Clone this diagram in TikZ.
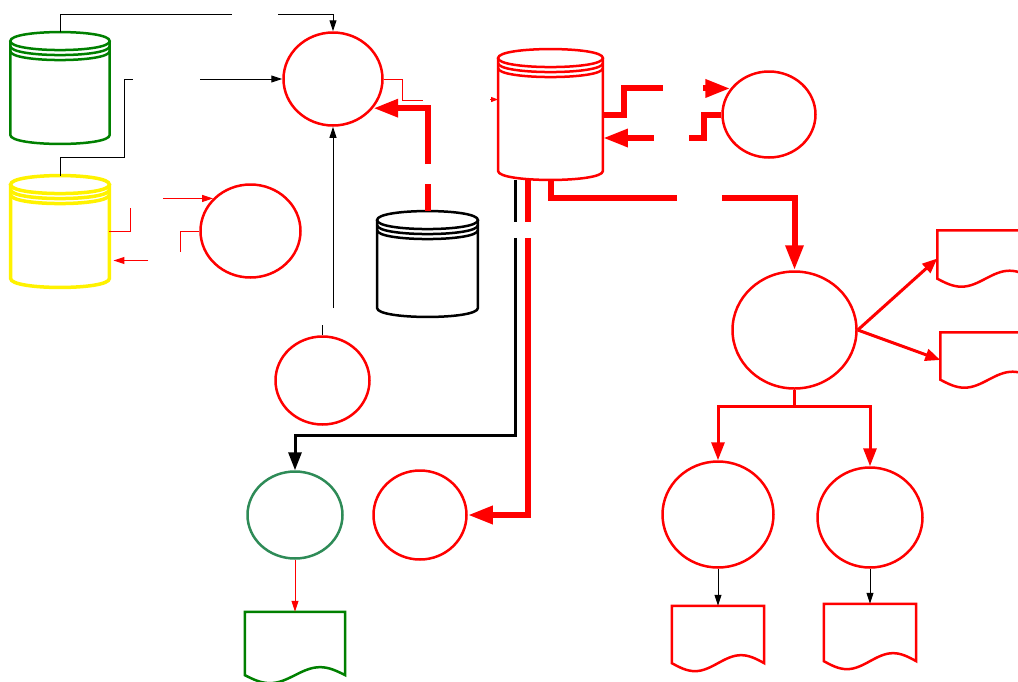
\documentclass[tikz,border=0pt]{standalone}
\usepackage{tikz}
\usetikzlibrary{shapes.geometric,arrows.meta,positioning,calc}
\definecolor{storegreen}{RGB}{0,128,0}
\definecolor{seagreen}{RGB}{46,139,87}

\begin{document}
\begin{tikzpicture}[
    x=1pt, y=-1pt,
    proc/.style={ellipse, draw=#1, line width=2.5pt, inner sep=0pt},
    proc/.default=red,
    store/.style={rectangle, inner sep=0pt},
    doc/.style={rectangle, inner sep=0pt},
    flow/.style={line width=1pt, -{Triangle[length=11pt,width=7pt]}},
    midflow/.style={line width=3pt, -{Triangle[length=18pt,width=13pt]}},
    bigflow/.style={draw=red, line width=6pt, -{Triangle[length=25pt,width=17pt]}}
]
\useasboundingbox (0,0) rectangle (1018,681);

% Data stores
\node[store, minimum width=99, minimum height=111.5] (storeA) at (60,88) {};
\node[store, minimum width=98.5, minimum height=111.5] (storeB) at (60,231.5) {};
\node[store, minimum width=100.5, minimum height=105.5] (storeC) at (427.5,264) {};
\node[store, minimum width=104.5, minimum height=130.5] (storeD) at (550.5,114.5) {};

\foreach \n/\c/\w in {storeA/storegreen/2.5, storeB/yellow/3.5, storeC/black/2.5, storeD/red/2.5} {
    % body and bottom
    \draw[draw=\c, line width=\w pt] ($(\n.north west)+(0,9)$) -- ($(\n.south west)+(0,-9)$)
        .. controls +(0,12) and +(0,12) .. ($(\n.south east)+(0,-9)$) -- ($(\n.north east)+(0,9)$);
    % lid
    \draw[draw=\c, line width=\w pt] ($(\n.north west)+(0,9)$)
        .. controls +(0,-12) and +(0,-12) .. ($(\n.north east)+(0,9)$)
        .. controls +(0,12) and +(0,12) .. ($(\n.north west)+(0,9)$) -- cycle;
    % rings under the lid
    \foreach \d in {5,10}
        \draw[draw=\c, line width=\w pt] ($(\n.north west)+(0,9+\d)$)
            .. controls +(0,12) and +(0,12) .. ($(\n.north east)+(0,9+\d)$);
}

% Processes
\node[proc, minimum width=99, minimum height=93] (procA) at (333,79) {};
\node[proc, minimum width=100, minimum height=93] (procB) at (250.5,231) {};
\node[proc, minimum width=93, minimum height=86] (procC) at (769,114.5) {};
\node[proc, minimum width=124, minimum height=117] (procD) at (794.5,330) {};
\node[proc, minimum width=94, minimum height=88] (procE) at (322.5,380.5) {};
\node[proc=seagreen, minimum width=95, minimum height=87] (procF) at (295,515) {};
\node[proc, minimum width=93, minimum height=89] (procG) at (420,515) {};
\node[proc, minimum width=111, minimum height=106] (procH) at (718,514.5) {};
\node[proc, minimum width=105, minimum height=100] (procI) at (870,517.5) {};

% Reports
\node[doc, minimum width=96, minimum height=56] (repA) at (985.5,258.5) {};
\node[doc, minimum width=96, minimum height=55] (repB) at (988.5,360) {};
\node[doc, minimum width=92, minimum height=65, below=37pt of procH] (repC) {};
\node[doc, minimum width=92, minimum height=65, below=35pt of procI] (repD) {};
\node[doc, minimum width=100, minimum height=71, below=52pt of procF] (repE) {};

\foreach \n/\c in {repA/red, repB/red, repC/red, repD/red, repE/storegreen}
    \draw[draw=\c, line width=2.5pt] (\n.north west) -- ($(\n.south west)+(0,-8)$)
        sin ($(\n.south west)!.25!(\n.south east)$) cos ($(\n.south)+(0,-8)$)
        sin ($(\n.south west)!.75!(\n.south east)+(0,-16)$) cos ($(\n.south east)+(0,-8)$)
        -- (\n.north east) -- cycle;

% Gaps in the connectors
\coordinate (aGap1) at (232,14);
\coordinate (aGap2) at (278,14);
\coordinate (bGap1) at (133,79);
\coordinate (bGap2) at (200,79);
\coordinate (cGap) at (333,308);
\coordinate (dGap1) at (423,100);
\coordinate (dGap2) at ([xshift=-8pt, yshift=15pt]storeD.west);
\coordinate (eGap1) at ([yshift=27pt]storeC.north);
\coordinate (eGap2) at ([yshift=47pt]storeC.north);
\coordinate (fGap1) at ([xshift=-67pt]procC.146);
\coordinate (fGap2) at ([xshift=-27pt]procC.146);
\coordinate (gGap1) at ([xshift=86pt, yshift=-23.5pt]storeD.east);
\coordinate (gGap2) at ([xshift=51pt, yshift=-23.5pt]storeD.east);
\coordinate (hGap1) at (677,198);
\coordinate (hGap2) at (722,198);
\coordinate (iGap1) at ([xshift=-35pt, yshift=-42pt]storeD.south);
\coordinate (iGap2) at ([xshift=-35pt, yshift=-58pt]storeD.south);
\coordinate (jGap1) at ([xshift=-22.5pt, yshift=-42pt]storeD.south);
\coordinate (jGap2) at ([xshift=-22.5pt, yshift=-58pt]storeD.south);
\coordinate (oGap1) at ([xshift=-50pt]procB.139);
\coordinate (oGap2) at ([xshift=39pt, yshift=-29pt]storeB.east);

% Thin black flows into the top process
\draw[line width=1pt] (storeA.north) |- (aGap1);
\draw[flow] (aGap2) -| (procA.north);
\draw[line width=1pt] (storeB.north) -- ++(0,-18) -- ++(64,0) |- (bGap1);
\draw[flow] (bGap2) -- (procA.west);
\draw[line width=1pt] (procE.north) -- ++(0,-10);
\draw[flow] (cGap) -- (procA.south);

% Red flows around the top process
\draw[red, line width=1pt] (procA.east) -- ++(19,0) |- (dGap1);
\draw[red, line width=1pt, -{Triangle[length=7pt,width=5pt]}] (dGap2) -- ([yshift=15pt]storeD.west);
\draw[red, line width=6pt] (storeC.north) -- (eGap1);
\draw[bigflow] (eGap2) |- (procA.-36);

% Exchange with the right process
\draw[red, line width=6pt] (storeD.east) -- ++(21,0) |- (fGap1);
\draw[bigflow] (fGap2) -- (procC.146);
\draw[red, line width=6pt] (procC.west) -- ++(-17,0) |- (gGap1);
\draw[bigflow] (gGap2) -- ([yshift=-23.5pt]storeD.east);

% Out of the red store
\draw[red, line width=6pt] (storeD.south) |- (hGap1);
\draw[bigflow] (hGap2) -| (procD.north);
\draw[line width=3pt] ([xshift=-35pt]storeD.south) -- (iGap1);
\draw[midflow] (iGap2) -- ++(0,198) -| (procF.north);
\draw[red, line width=6pt] ([xshift=-22.5pt]storeD.south) -- (jGap1);
\draw[bigflow] (jGap2) |- (procG.east);

% Split below the big process
\draw[red, line width=3pt] (procD.south) -- ++(0,17) coordinate (split);
\draw[midflow, red] (split) -| (procH.north);
\draw[midflow, red] (split) -| (procI.north);
\draw[midflow, red, -{Triangle[length=15pt,width=12pt]}] (procD.east) -- (repA.west);
\draw[midflow, red, -{Triangle[length=15pt,width=12pt]}] (procD.east) -- (repB.west);

% Reports
\draw[flow] (procH.south) -- (repC.north);
\draw[flow] (procI.south) -- (repD.north);
\draw[flow, red] (procF.south) -- (repE.north);

% Yellow store and its process
\draw[red, line width=1pt] (storeB.east) -- ++(21,0) -- ++(0,-24);
\draw[flow, red] (oGap1) -- (procB.139);
\draw[red, line width=1pt] (procB.west) -- ++(-19,0) -- ++(0,21);
\draw[flow, red] (oGap2) -- ([xshift=4pt, yshift=-29pt]storeB.east);

\end{tikzpicture}
\end{document}
